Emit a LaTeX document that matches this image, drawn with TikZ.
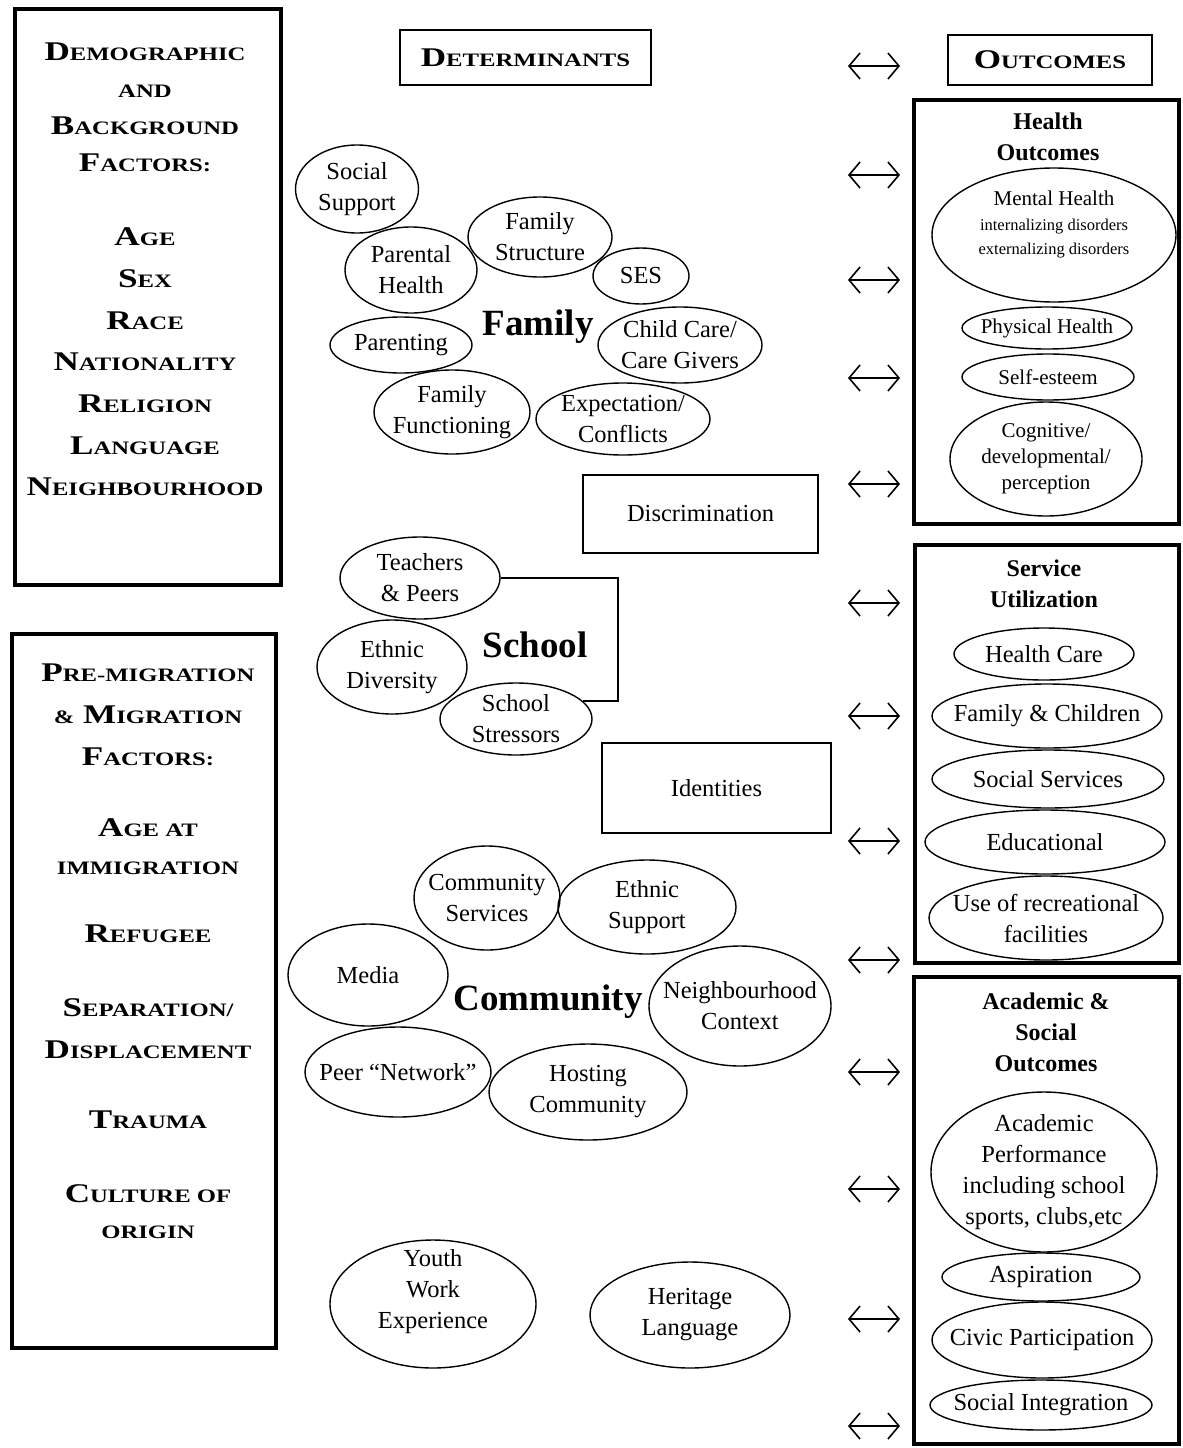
\documentclass[tikz,border=0pt]{standalone}
\usepackage{fontspec}
\setmainfont{Liberation Serif}
\newfontfamily\scf[FakeStretch=1.3]{Liberation Serif}
\usetikzlibrary{shapes.geometric,arrows.meta}
\newcommand\SC[2]{{\fontsize{27}{30}\selectfont #1}{\fontsize{19}{30}\selectfont #2}}
\newcommand\sm[1]{{\fontsize{19}{30}\selectfont #1}}
\begin{document}
\begin{tikzpicture}[x=1pt,y=-1pt,
  el/.style={draw, ellipse, line width=1.4pt, inner sep=-30pt, align=center,
             font=\fontsize{24.5}{31}\selectfont},
  hel/.style={el, font=\fontsize{21}{26}\selectfont},
  sz/.style 2 args={minimum width=#1pt, minimum height=#2pt},
  hd/.style={align=center, font=\bfseries\fontsize{24}{31}\selectfont},
  big/.style={font=\bfseries\fontsize{37}{40}\selectfont},
  tb/.style={draw, line width=4pt, inner sep=0pt},
  rbox/.style={draw, line width=1.5pt, inner sep=0pt, font=\fontsize{24.5}{31}\selectfont},
  sc/.style={align=center, font=\scf\bfseries\fontsize{27}{#1}\selectfont},
  sc/.default=42,
  dbl/.style={{Straight Barb[length=11pt,width=26pt]}-{Straight Barb[length=11pt,width=26pt]}, line width=1.6pt}
]
\useasboundingbox (0,0) rectangle (1183,1448);
\fill[white] (0,0) rectangle (1183,1448);

% ---------- left frames ----------
\node[tb, minimum width=266pt, minimum height=576pt] (demo) at (148,297) {};
\node[sc=37] (demoT) at (145,107) {\SC{D}{EMOGRAPHIC}\\\sm{AND}\\\SC{B}{ACKGROUND}\\\SC{F}{ACTORS:}};
\node[sc=41.7] (demoL) at (145,362) {\SC{A}{GE}\\\SC{S}{EX}\\\SC{R}{ACE}\\\SC{N}{ATIONALITY}\\\SC{R}{ELIGION}\\\SC{L}{ANGUAGE}\\\SC{N}{EIGHBOURHOOD}};

\node[tb, minimum width=264pt, minimum height=714pt] (mig) at (144,991) {};
\node[sc=42] (mig1) at (148,715) {\SC{P}{RE-MIGRATION}\\\sm{\&} \SC{M}{IGRATION}\\\SC{F}{ACTORS:}};
\node[sc=38] (mig2) at (148,847) {\SC{A}{GE AT}\\\sm{IMMIGRATION}};
\node[sc] (mig3) at (148,934) {\SC{R}{EFUGEE}};
\node[sc=42] (mig4) at (148,1029) {\SC{S}{EPARATION/}\\\SC{D}{ISPLACEMENT}};
\node[sc] (mig5) at (148,1120) {\SC{T}{RAUMA}};
\node[sc=36] (mig6) at (148,1212) {\SC{C}{ULTURE OF}\\\sm{ORIGIN}};

% ---------- headers ----------
\node[draw, line width=2pt, minimum width=251pt, minimum height=55pt, sc] (det) at (525.5,57.5) {\SC{D}{ETERMINANTS}};
\node[draw, line width=2pt, minimum width=204pt, minimum height=50pt, sc] (out) at (1050,60) {\SC{O}{UTCOMES}};

% ---------- family ----------
\node[el, sz={123}{88}]  (ss)  at (357,189) {Social\\Support};
\node[el, sz={132}{86}]  (ph)  at (411,270) {Parental\\Health};
\node[el, sz={144}{80}]  (fs)  at (540,237) {Family\\Structure};
\node[el, sz={96}{56}]   (ses) at (641,276) {SES};
\node[el, sz={142}{56}]  (par) at (401,345) {Parenting};
\node[el, sz={164}{76}]  (cc)  at (680,345) {Child Care/\\Care Givers};
\node[el, sz={156}{84}]  (ff)  at (452,412) {Family\\Functioning};
\node[el, sz={174}{72}]  (ec)  at (623,419) {Expectation/\\Conflicts};
\node[big] (famL) at (538,327) {Family};

\node[rbox, minimum width=235pt, minimum height=78pt] (disc) at (700.5,514) {Discrimination};

% ---------- school ----------
\node[el, sz={160}{82}]  (tp)  at (420,578) {Teachers\\\& Peers};
\node[el, sz={150}{94}]  (ed)  at (392,667) {Ethnic\\Diversity};
\node[el, sz={152}{72}]  (sst) at (516,719) {School\\Stressors};
\node[big] (schL) at (535,645) {School};
\coordinate (brk) at (618,640);
\draw[line width=1.5pt] (tp.east) -| (brk) |- (sst.15);

\node[rbox, minimum width=229pt, minimum height=90pt] (ident) at (716.5,788) {Identities};

% ---------- community ----------
\node[el, sz={146}{104}] (cs)  at (487,898) {Community\\Services};
\node[el, sz={178}{94}]  (es)  at (647,907) {Ethnic\\Support};
\node[el, sz={160}{102}] (med) at (368,975) {Media};
\node[el, sz={182}{120}] (nc)  at (740,1006) {Neighbourhood\\Context};
\node[el, sz={186}{90}]  (pn)  at (398,1072) {Peer “Network”};
\node[el, sz={198}{96}]  (hc)  at (588,1092) {Hosting\\Community};
\node[big] (comL) at (548,1002) {Community};

\node[el, sz={206}{128}] (yw)  at (433,1304) {Youth\\Work\\Experience\\\mbox{}};
\node[el, sz={200}{106}] (hl)  at (690,1315) {Heritage\\Language};

% ---------- health outcomes ----------
\node[tb, minimum width=265pt, minimum height=424pt] (hbox) at (1046.5,312) {};
\node[hd] (hT) at (1048,137) {Health\\Outcomes};
\node[hel, sz={244}{134}, font=\fontsize{21}{24.5}\selectfont] (mh) at (1054,235)
  {Mental Health\\{\fontsize{16.5}{24}\selectfont internalizing disorders}\\{\fontsize{16.5}{24}\selectfont externalizing disorders}\\\mbox{}};
\node[hel, sz={170}{42}]  (phy) at (1047,328) {Physical Health};
\node[hel, sz={172}{46}]  (se)  at (1048,377) {Self-esteem};
\node[hel, sz={192}{114}] (cog) at (1046,459) {Cognitive/\\developmental/\\perception};

% ---------- service utilization ----------
\node[tb, minimum width=264pt, minimum height=418pt] (sbox) at (1047,754) {};
\node[hd] (sT) at (1044,584) {Service\\Utilization};
\node[el, sz={180}{52}] (hcare) at (1044,654) {Health Care};
\node[el, sz={230}{64}] (fc)    at (1047,716) {Family \& Children};
\node[el, sz={232}{58}] (socs)  at (1048,779) {Social Services};
\node[el, sz={240}{64}] (edu)   at (1045,842) {Educational};
\node[el, sz={234}{84}] (rec)   at (1046,918) {Use of recreational\\facilities};

% ---------- academic & social ----------
\node[tb, minimum width=265pt, minimum height=467pt] (abox) at (1046.5,1210.5) {};
\node[hd] (aT) at (1046,1032) {Academic \&\\Social\\Outcomes};
\node[el, sz={226}{160}] (ap)  at (1044,1172) {Academic\\Performance\\including school\\sports, clubs,etc};
\node[el, sz={198}{48}]  (asp) at (1041,1277) {Aspiration};
\node[el, sz={220}{76}]  (civ) at (1042,1340) {Civic Participation};
\node[el, sz={222}{50}]  (si)  at (1041,1405) {Social Integration};

% ---------- double arrows ----------
\foreach \i/\y in {1/66,2/175,3/280,4/378,5/484,6/603,7/716,8/841,9/960,10/1072,11/1189,12/1319,13/1426}{
  \coordinate (al\i) at (848,\y);
  \coordinate (ar\i) at (900,\y);
  \draw[dbl] (al\i) -- (ar\i);
}
\end{tikzpicture}
\end{document}
